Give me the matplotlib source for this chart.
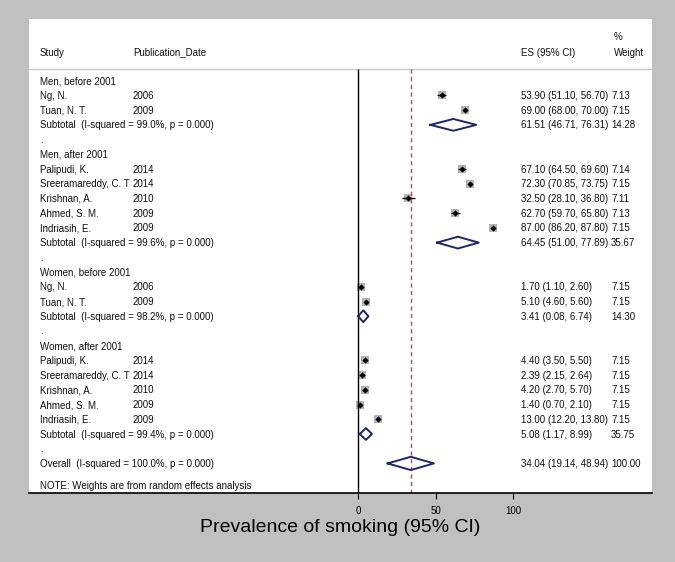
import matplotlib.pyplot as plt

plt.rcParams['font.family'] = ['Liberation Sans', 'DejaVu Sans']

groups = ["Men, before 2001", "Men, after 2001", "Women, before 2001", "Women, after 2001"]
studies = [
    ["Ng, N.", "Tuan, N. T."],
    ["Palipudi, K.", "Sreeramareddy, C. T", "Krishnan, A.", "Ahmed, S. M.", "Indriasih, E."],
    ["Ng, N.", "Tuan, N. T."],
    ["Palipudi, K.", "Sreeramareddy, C. T", "Krishnan, A.", "Ahmed, S. M.", "Indriasih, E."],
]
years = [[2006, 2009], [2014, 2014, 2010, 2009, 2009], [2006, 2009], [2014, 2014, 2010, 2009, 2009]]
es = [[53.90, 69.00], [67.10, 72.30, 32.50, 62.70, 87.00], [1.70, 5.10], [4.40, 2.39, 4.20, 1.40, 13.00]]
lo = [[51.10, 68.00], [64.50, 70.85, 28.10, 59.70, 86.20], [1.10, 4.60], [3.50, 2.15, 2.70, 0.70, 12.20]]
hi = [[56.70, 70.00], [69.60, 73.75, 36.80, 65.80, 87.80], [2.60, 5.60], [5.50, 2.64, 5.70, 2.10, 13.80]]
wt = [[7.13, 7.15], [7.14, 7.15, 7.11, 7.13, 7.15], [7.15, 7.15], [7.15, 7.15, 7.15, 7.15, 7.15]]

sub_i2 = [99.0, 99.6, 98.2, 99.4]
sub_es = [61.51, 64.45, 3.41, 5.08]
sub_lo = [46.71, 51.00, 0.08, 1.17]
sub_hi = [76.31, 77.89, 6.74, 8.99]
sub_wt = [14.28, 35.67, 14.30, 35.75]

overall_i2 = 100.0
overall_es = 34.04
overall_lo = 19.14
overall_hi = 48.94
overall_wt = 100.00

xticks = [0, 50, 100]

# layout (pixels of the 675x562 picture)
W, H = 675, 562
px0, px1, py_top, py_bot = 29, 652, 19, 493
x_zero, px_per_unit = 358, 1.55
row0, row_h = 80.7, 14.72

def col(px):
    return (px - px0) / (px1 - px0)

def row(py):
    return (py - row0) / row_h

fig = plt.figure(figsize=(W / 100, H / 100), dpi=100, facecolor='#c0c0c0')
ax = fig.add_axes([px0 / W, (H - py_bot) / H, (px1 - px0) / W, (py_bot - py_top) / H])
ax.set_facecolor('white')
ax.set_xlim((px0 - x_zero) / px_per_unit, (px1 - x_zero) / px_per_unit)
ax.set_ylim(row(py_bot), row(py_top))

tr = ax.get_yaxis_transform()  # x in axes fraction, y in data
fs = 7
base = 0.24  # baseline sits a bit below the row centre
c_study, c_date, c_es, c_wt = col(40), col(133), col(521), col(611)
navy = '#1f2768'

def txt(x, y, s):
    ax.text(x, y + base, s, transform=tr, fontsize=fs, va='baseline', color='#111111')

def diamond(y, e, l, h, hh=0.4):
    ax.plot([l, e, h, e, l], [y, y - hh, y, y + hh, y], color=navy, lw=1.4, zorder=4)

# header
txt(c_study, row(52), "Study")
txt(c_date, row(52), "Publication_Date")
txt(c_es, row(52), "ES (95% CI)")
txt(col(614), row(36), "%")
txt(col(614), row(52), "Weight")
sep = row(69)
ax.axhline(sep, color='#c8c8c8', lw=1)

r = 0
for g in range(len(groups)):
    txt(c_study, r, groups[g])
    r += 1
    for i in range(len(studies[g])):
        txt(c_study, r, studies[g][i])
        txt(c_date, r, str(years[g][i]))
        txt(c_es, r, f"{es[g][i]:.2f} ({lo[g][i]:.2f}, {hi[g][i]:.2f})")
        txt(c_wt, r, f"{wt[g][i]:.2f}")
        ax.plot(es[g][i], r, 's', color='#b4b4b4', ms=5.8 * (wt[g][i] / 7.15) ** 0.5, mew=0, zorder=2)
        ax.hlines(r, lo[g][i], hi[g][i], color='black', lw=1, zorder=3)
        ax.plot(es[g][i], r, 'D', color='black', ms=3.2, mew=0, zorder=3)
        r += 1
    txt(c_study, r, f"Subtotal  (I-squared = {sub_i2[g]:.1f}%, p = 0.000)")
    txt(c_es, r, f"{sub_es[g]:.2f} ({sub_lo[g]:.2f}, {sub_hi[g]:.2f})")
    txt(c_wt, r, f"{sub_wt[g]:.2f}")
    diamond(r, sub_es[g], sub_lo[g], sub_hi[g])
    r += 1
    txt(c_study, r, ".")
    r += 1

txt(c_study, r, f"Overall  (I-squared = {overall_i2:.1f}%, p = 0.000)")
txt(c_es, r, f"{overall_es:.2f} ({overall_lo:.2f}, {overall_hi:.2f})")
txt(c_wt, r, f"{overall_wt:.2f}")
diamond(r, overall_es, overall_lo, overall_hi, hh=0.45)
txt(c_study, r + 1.5, "NOTE: Weights are from random effects analysis")

bottom = row(py_bot)
ax.vlines(0, sep, bottom, color='black', lw=1)
ax.vlines(overall_es, sep, bottom, color='#a5505c', lw=1, linestyles=(0, (3, 2.5)))

for s in ['top', 'left', 'right']:
    ax.spines[s].set_visible(False)
ax.spines['bottom'].set_linewidth(1.2)
ax.set_yticks([])
ax.set_xticks(xticks)
ax.tick_params(axis='x', direction='out', length=4.5, width=0.8, labelsize=7, pad=5)
ax.set_xlabel("Prevalence of smoking (95% CI)", fontsize=14, labelpad=2)

fig.savefig('out.png', dpi=100, facecolor=fig.get_facecolor())
